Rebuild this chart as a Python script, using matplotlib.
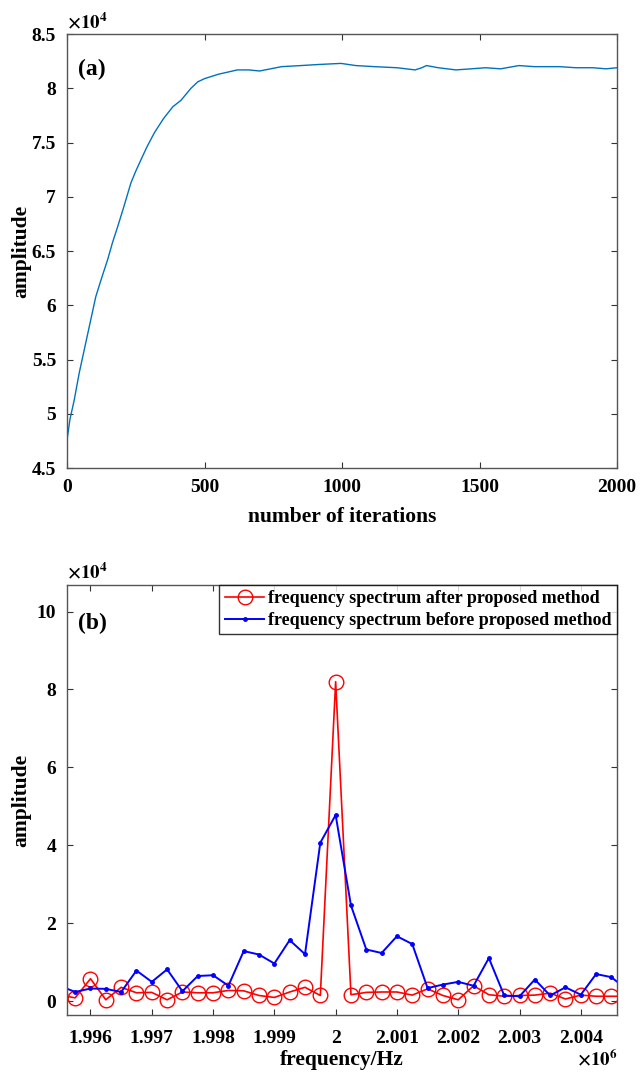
import matplotlib
matplotlib.use("Agg")
import matplotlib.pyplot as plt
import numpy as np

plt.rcParams['font.family'] = ['Liberation Serif', 'DejaVu Serif']
plt.rcParams['font.weight'] = 'bold'
plt.rcParams['mathtext.fontset'] = 'stix'

# (a) amplitude vs iterations (x1e4)
iters = [0, 10, 25, 44, 62, 80, 104, 125, 147, 165, 183, 205, 232, 250, 268,
         290, 317, 350, 384, 414, 450, 475, 500, 550, 619, 660, 700, 740, 780,
         850, 915, 996, 1050, 1118, 1200, 1266, 1290, 1307, 1350, 1414, 1470,
         1522, 1577, 1643, 1700, 1792, 1850, 1913, 1960, 2000]
amp_a = [4.77, 4.95, 5.12, 5.38, 5.59, 5.8, 6.08, 6.25, 6.42, 6.58, 6.72, 6.9,
         7.13, 7.24, 7.34, 7.46, 7.59, 7.72, 7.83, 7.89, 8.0, 8.06, 8.09, 8.13,
         8.17, 8.17, 8.16, 8.18, 8.2, 8.21, 8.22, 8.23, 8.21, 8.2, 8.19, 8.17,
         8.19, 8.21, 8.19, 8.17, 8.18, 8.19, 8.18, 8.21, 8.2, 8.2, 8.19, 8.19,
         8.18, 8.19]

# (b) spectra, frequency in MHz (x1e6), amplitude x1e4
freq = [1.9955, 1.99575, 1.996, 1.99625, 1.9965, 1.99675, 1.997, 1.99725,
        1.9975, 1.99775, 1.998, 1.99825, 1.9985, 1.99875, 1.999, 1.99925,
        1.9995, 1.99975, 2.0, 2.00025, 2.0005, 2.00075, 2.001, 2.00125,
        2.0015, 2.00175, 2.002, 2.00225, 2.0025, 2.00275, 2.003, 2.00325,
        2.0035, 2.00375, 2.004, 2.00425, 2.0045, 2.00475]
after = [0.16, 0.09, 0.58, 0.04, 0.36, 0.22, 0.23, 0.04, 0.24, 0.22, 0.22,
         0.28, 0.27, 0.15, 0.1, 0.24, 0.36, 0.15, 8.2, 0.17, 0.23, 0.24, 0.24,
         0.16, 0.32, 0.15, 0.04, 0.4, 0.17, 0.13, 0.15, 0.16, 0.21, 0.06, 0.16,
         0.13, 0.13, 0.13]
before = [0.4, 0.24, 0.33, 0.32, 0.24, 0.79, 0.5, 0.82, 0.26, 0.65, 0.67, 0.4,
          1.29, 1.2, 0.97, 1.57, 1.21, 4.07, 4.78, 2.46, 1.33, 1.24, 1.67, 1.47,
          0.34, 0.43, 0.5, 0.4, 1.11, 0.15, 0.13, 0.56, 0.15, 0.36, 0.17, 0.7,
          0.62, 0.3]

fig = plt.figure(figsize=(6.4, 10.76), dpi=100)

def style(ax, xpad=8):
    ax.tick_params(direction='in', top=True, right=True, length=4, pad=8,
                   labelsize=14, color='#333333')
    ax.tick_params(axis='x', pad=xpad)
    for s in ax.spines.values():
        s.set_color('#555555')
        s.set_linewidth(1.0)
    for lab in ax.get_xticklabels() + ax.get_yticklabels():
        lab.set_fontweight('bold')

# top panel: spine at y=34..468 px
ax1 = fig.add_axes([0.105, 0.565, 0.859, 0.4033])
ax1.plot(np.array(iters), np.array(amp_a) * 1e4, color='#0072BD', lw=1.0)
ax1.set_xlim(0, 2000)
ax1.set_ylim(4.5e4, 8.5e4)
ax1.set_xticks([0, 500, 1000, 1500, 2000])
ax1.set_yticks(np.arange(4.5, 8.51, 0.5) * 1e4)
ax1.set_yticklabels(['4.5', '5', '5.5', '6', '6.5', '7', '7.5', '8', '8.5'])
ax1.set_xticklabels(['0', '500', '1000', '1500', '2000'])
style(ax1)
ax1.set_xlabel('number of iterations', fontsize=15.5, fontweight='bold')
ax1.set_ylabel('amplitude', fontsize=15.5, fontweight='bold')
ax1.xaxis.set_label_coords(0.5, -0.09)
ax1.yaxis.set_label_coords(-0.066, 0.5)
ax1.text(0.02, 0.918, '(a)', transform=ax1.transAxes, fontsize=17,
         fontweight='bold', va='center')
ax1.text(0.0, 1.005, r'$\times10^4$', transform=ax1.transAxes, fontsize=13.5,
         va='bottom', ha='left')

# bottom panel: spine at y=585..1015 px
ax2 = fig.add_axes([0.105, 0.0567, 0.859, 0.3996])
f = np.array(freq) * 1e6
ax2.plot(f, np.array(after) * 1e4, color='red', lw=1.2, marker='o',
         markersize=10.5, markerfacecolor='none', markeredgewidth=1.0,
         label='frequency spectrum after proposed method')
ax2.plot(f, np.array(before) * 1e4, color='blue', lw=1.4, marker='.',
         markersize=5, label='frequency spectrum before proposed method')
ax2.set_xlim(1.99562e6, 2.00459e6)
ax2.set_ylim(-0.35e4, 10.68e4)
xt = [1.996, 1.997, 1.998, 1.999, 2.0, 2.001, 2.002, 2.003, 2.004]
ax2.set_xticks(np.array(xt) * 1e6)
ax2.set_xticklabels(['1.996', '1.997', '1.998', '1.999', '2', '2.001',
                     '2.002', '2.003', '2.004'])
ax2.set_yticks(np.arange(0, 10.1, 2) * 1e4)
ax2.set_yticklabels(['0', '2', '4', '6', '8', '10'])
style(ax2, xpad=11)
ax2.set_xlabel('frequency/Hz', fontsize=15.5, fontweight='bold')
ax2.set_ylabel('amplitude', fontsize=15.5, fontweight='bold')
ax2.xaxis.set_label_coords(0.5, -0.082)
ax2.yaxis.set_label_coords(-0.066, 0.5)
ax2.text(0.02, 0.91, '(b)', transform=ax2.transAxes, fontsize=17,
         fontweight='bold', va='center')
ax2.text(0.0, 1.005, r'$\times10^4$', transform=ax2.transAxes, fontsize=13.5,
         va='bottom', ha='left')
ax2.text(1.0, -0.079, r'$\times10^6$', transform=ax2.transAxes, fontsize=13.5,
         va='top', ha='right')
leg = ax2.legend(loc='upper right', frameon=True, fancybox=False,
                 borderaxespad=0, handlelength=2.2, handletextpad=0.2,
                 borderpad=0.3, labelspacing=0.25,
                 prop={'weight': 'bold', 'size': 13})
leg.get_frame().set_edgecolor('black')
leg.get_frame().set_linewidth(1.0)

fig.savefig('out.png', dpi=100)
